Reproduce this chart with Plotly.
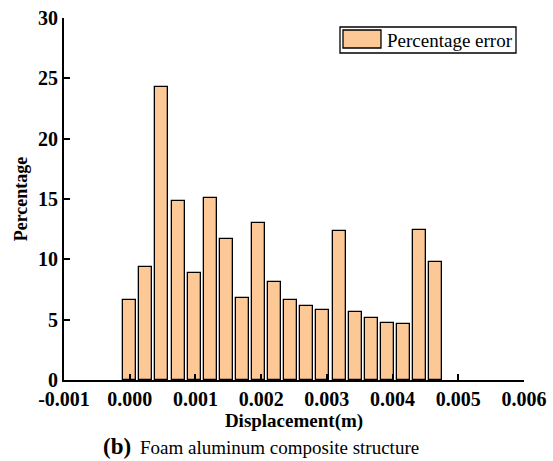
import plotly.graph_objects as go

displacement = [0.0, 0.000245, 0.00049, 0.000735, 0.00098, 0.001225, 0.00147, 0.001715,
                0.00196, 0.002205, 0.00245, 0.002695, 0.00294, 0.003185, 0.00343, 0.003675,
                0.00392, 0.004165, 0.00441, 0.004655]
percentage_error = [6.65, 9.39, 24.25, 14.83, 8.89, 15.1, 11.71, 6.82, 13.03, 8.15,
                    6.6, 6.13, 5.83, 12.32, 5.61, 5.16, 4.75, 4.66, 12.43, 9.75]
x_ticks = [-0.001, 0.0, 0.001, 0.002, 0.003, 0.004, 0.005, 0.006]
x_tick_labels = ["-0.001", "0.000", "0.001", "0.002", "0.003", "0.004", "0.005", "0.006"]
y_ticks = [0, 5, 10, 15, 20, 25, 30]
series_name = "Percentage error"
bar_color = "#FCC896"

FONT = "Liberation Serif"

fig = go.Figure()
fig.add_trace(go.Bar(
    x=displacement, y=percentage_error, name=series_name,
    width=0.000198, showlegend=False,
    marker=dict(color=bar_color, line=dict(color="black", width=1.3)),
))

fig.update_layout(
    width=553, height=461,
    margin=dict(l=64, r=29, t=18, b=81),
    plot_bgcolor="white", paper_bgcolor="white",
    font=dict(family=FONT, color="black"),
    bargap=0,
)
fig.update_xaxes(
    range=[-0.001, 0.006], tickmode="array", tickvals=x_ticks, ticktext=x_tick_labels,
    ticks="inside", ticklen=6, tickwidth=2, tickcolor="black", layer="above traces",
    showline=True, linecolor="black", linewidth=2, showgrid=False, zeroline=False,
    automargin=False,
    tickfont=dict(size=20, family=FONT, weight="bold"),
    title=dict(text="<b>Displacement(m)</b>", font=dict(size=19, family=FONT), standoff=4),
)
fig.update_yaxes(
    range=[0, 30], tickmode="array", tickvals=y_ticks,
    ticks="inside", ticklen=6, tickwidth=2, tickcolor="black", layer="above traces",
    showline=True, linecolor="black", linewidth=2, showgrid=False, zeroline=False,
    automargin=False,
    tickfont=dict(size=20, family=FONT, weight="bold"),
    title=dict(text="<b>Percentage</b>", font=dict(size=18, family=FONT), standoff=6),
)
# legend box
fig.add_shape(type="rect", xref="paper", yref="paper", x0=0.6, x1=0.9826, y0=0.9033, y1=0.9751,
              line=dict(color="black", width=1.3), fillcolor="white", layer="above")
fig.add_shape(type="rect", xref="paper", yref="paper", x0=0.6065, x1=0.6891, y0=0.9171, y1=0.9669,
              line=dict(color="black", width=1.3), fillcolor=bar_color, layer="above")
fig.add_annotation(xref="paper", yref="paper", x=0.698, y=0.939, xanchor="left", yanchor="middle",
                   text=series_name, showarrow=False, font=dict(size=19, family=FONT, color="black"))
# caption
fig.add_annotation(xref="paper", yref="paper", x=0.149, y=-0.183, xanchor="right", yanchor="middle",
                   text="<b>(b)</b>", showarrow=False, font=dict(size=23, family=FONT, color="black"))
fig.add_annotation(xref="paper", yref="paper", x=0.161, y=-0.186, xanchor="left", yanchor="middle",
                   text="Foam aluminum composite structure", showarrow=False,
                   font=dict(size=19, family=FONT, color="black"))
fig.write_html("out.html")
